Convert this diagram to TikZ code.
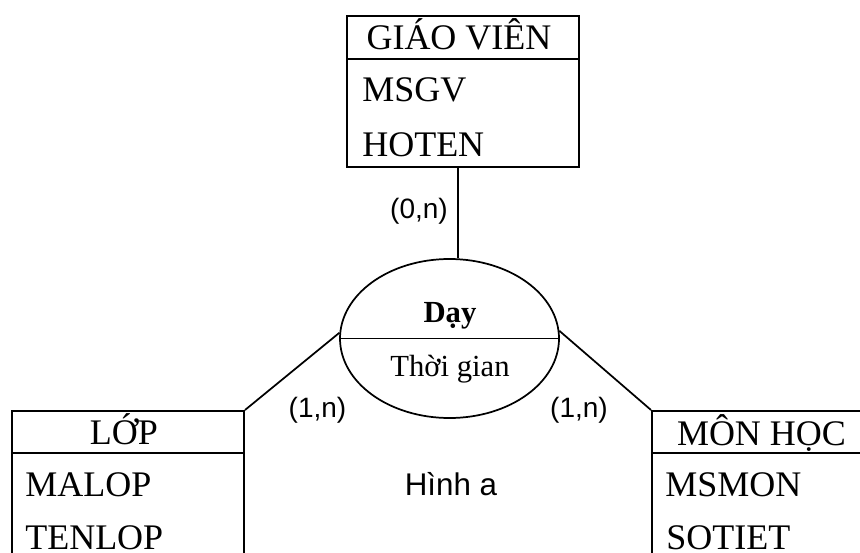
\documentclass[tikz,border=0pt]{standalone}
\usepackage{fontspec}
\setmainfont{Liberation Serif}
\newfontfamily\sansf{Liberation Sans}
\usetikzlibrary{shapes.geometric}
\begin{document}
\begin{tikzpicture}[x=0.75pt,y=-0.75pt,
  entbox/.style={draw, line width=1.5pt, rectangle, anchor=north west, inner sep=0, minimum width=174pt},
  hdr/.style={font=\fontsize{27}{32}\selectfont, inner sep=0, anchor=base},
  attr/.style={font=\fontsize{27}{32}\selectfont, inner sep=0, anchor=base west},
  rel/.style={font=\fontsize{23}{27}\selectfont, inner sep=0, anchor=base},
  card/.style={font=\sansf\fontsize{21}{25}\selectfont, inner sep=0},
  conn/.style={line width=1.3pt}]
\useasboundingbox (0,0) rectangle (860,553);
\clip (0,0) rectangle (860,553);
% entity boxes
\node[entbox, minimum height=113.25pt] (gv) at (346,15) {};
\node[entbox, minimum height=120pt] (lop) at (11,410) {};
\node[entbox, minimum height=120pt] (mh) at (651,410) {};
\draw[line width=1.5pt] (346,59) -- (578,59);
\draw[line width=1.5pt] (11,453) -- (243,453);
\draw[line width=1.5pt] (651,453) -- (883,453);
% relationship
\node[draw, ellipse, line width=1.3pt, inner sep=0, minimum width=164.25pt, minimum height=119.25pt] (dy) at (449.5,338.5) {};
\draw[line width=1.3pt] (dy.west) -- (dy.east);
% texts
\node[hdr] (t1) at (459,49.5) {GIÁO VIÊN};
\node[attr] (a1) at (362,101) {MSGV};
\node[attr] (a2) at (362,156.5) {HOTEN};
\node[hdr] (t2) at (124,444.5) {LỚP};
\node[attr] (a3) at (25,496.5) {MALOP};
\node[attr] (a4) at (25,549) {TENLOP};
\node[hdr] (t3) at (761.5,445.5) {MÔN HỌC};
\node[attr] (a5) at (665,496.5) {MSMON};
\node[attr] (a6) at (666,549.5) {SOTIET};
\node[rel, font=\bfseries\fontsize{23}{27}\selectfont] (r1) at (450,322) {Dạy};
\node[rel] (r2) at (450,376.5) {Thời gian};
% connectors
\draw[conn] (dy.84.6) -- (dy.84.6 |- gv.south);
\draw[conn] (dy.177) -- (lop.north east);
\draw[conn] (dy.4.5) -- (mh.north west);
% cardinalities
\node[card] (c1) at (419,211.5) {(0,n)};
\node[card] (c2) at (317.5,410) {(1,n)};
\node[card] (c3) at (579,410) {(1,n)};
\node[card, font=\sansf\fontsize{23.5}{28}\selectfont, anchor=base] (cap) at (451,495) {Hình a};
\end{tikzpicture}
\end{document}
